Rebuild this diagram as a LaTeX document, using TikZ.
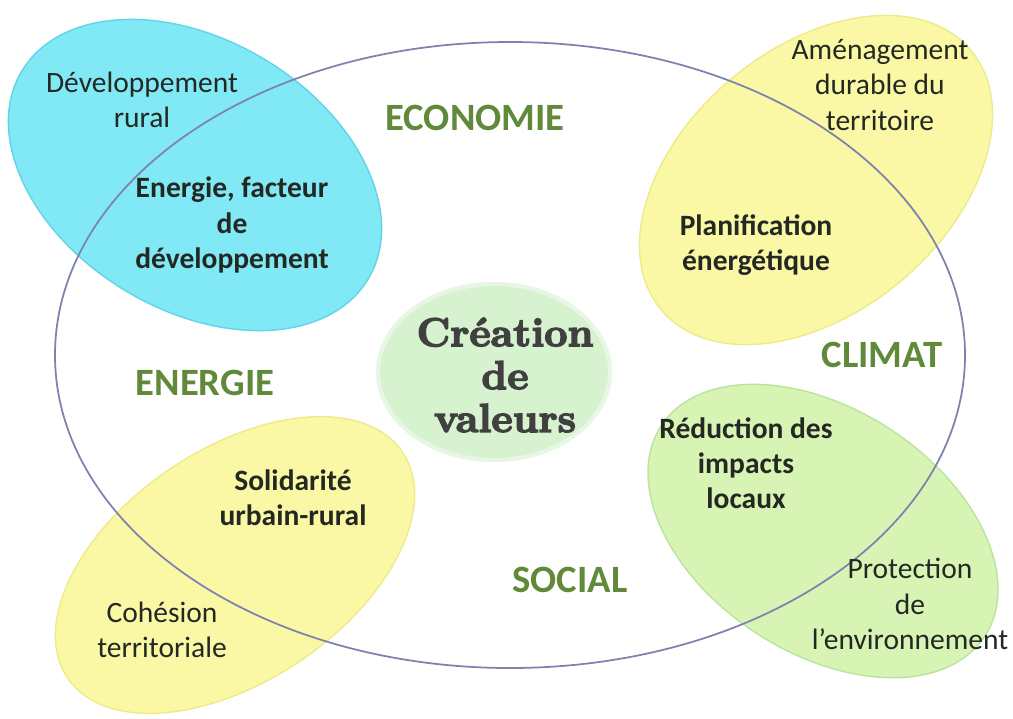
\documentclass[tikz,border=0pt]{standalone}
\usepackage{fontspec}
\newfontfamily\calib{Carlito}
\newfontfamily\heavy{lmroman10-bold.otf}[RawFeature={embolden=3.5}]
\usepackage{tikz}

\definecolor{ring}{RGB}{125,130,175}
\definecolor{cyanfill}{RGB}{128,233,245}
\definecolor{cyanedge}{RGB}{98,212,232}
\definecolor{yelfill}{RGB}{250,248,165}
\definecolor{yeledge}{RGB}{238,234,140}
\definecolor{grnfill}{RGB}{216,244,180}
\definecolor{grnedge}{RGB}{186,228,156}
\definecolor{midfill}{RGB}{214,242,206}
\definecolor{midedge}{RGB}{232,246,230}
\definecolor{themegreen}{RGB}{96,138,58}
\definecolor{ink}{RGB}{35,40,35}

\tikzset{
  txt/.style={align=center, text=ink, font=\calib\fontsize{8.4}{10}\selectfont},
  boldtxt/.style={txt, font=\calib\bfseries\fontsize{8.4}{10}\selectfont},
  theme/.style={text=themegreen, font=\calib\bfseries\fontsize{11}{13}\selectfont},
  valeur/.style={align=center, text=black!75, font=\heavy\fontsize{11.5}{12.2}\selectfont},
}

\begin{document}
\begin{tikzpicture}
      \useasboundingbox (0,0) rectangle (10.13,-7.18);
      % domains
      \filldraw[fill=cyanfill, draw=cyanedge, rotate around={-31:(1.95,-1.75)}] (1.95,-1.75) ellipse (2.02 and 1.35);
      \filldraw[fill=yelfill, draw=yeledge, rotate around={40:(8.16,-1.80)}] (8.16,-1.80) ellipse (2.02 and 1.32);
      \filldraw[fill=yelfill, draw=yeledge, rotate around={34:(2.35,-5.65)}] (2.35,-5.65) ellipse (2.02 and 1.16);
      \filldraw[fill=grnfill, draw=grnedge, rotate around={-33:(8.23,-5.31)}] (8.23,-5.31) ellipse (1.93 and 1.22);
      % centre
      \filldraw[fill=midfill, draw=midedge, line width=1.2pt] (4.94,-3.72) ellipse (1.16 and 0.88);
      % ring
      \draw[ring, line width=0.5pt] (5.10,-3.55) ellipse (4.55 and 3.13);
      % texts
      \node[txt] (devrural) at (1.42,-1.00) {Développement\\rural};
      \node[boldtxt] (facteur) at (2.32,-2.25) {Energie, facteur\\de\\développement};
      \node[theme] (eco) at (4.75,-1.18) {ECONOMIE};
      \node[txt] (amenag) at (8.80,-0.85) {Aménagement\\durable du\\territoire};
      \node[boldtxt] (planif) at (7.56,-2.45) {Planification\\énergétique};
      \node[valeur] (valeurs) at (5.05,-3.75) {Création\\de\\valeurs};
      \node[theme] (climat) at (8.82,-3.55) {CLIMAT};
      \node[theme] (energie) at (2.05,-3.83) {ENERGIE};
      \node[boldtxt] (solid) at (2.93,-4.98) {Solidarité\\urbain-rural};
      \node[boldtxt] (reduc) at (7.46,-4.63) {Réduction des\\impacts\\locaux};
      \node[txt] (protec) at (9.10,-6.04) {Protection\\de\\l’environnement};
      \node[theme] (social) at (5.70,-5.80) {SOCIAL};
      \node[txt] (cohesion) at (1.62,-6.30) {Cohésion\\territoriale};
    \end{tikzpicture}
\end{document}
